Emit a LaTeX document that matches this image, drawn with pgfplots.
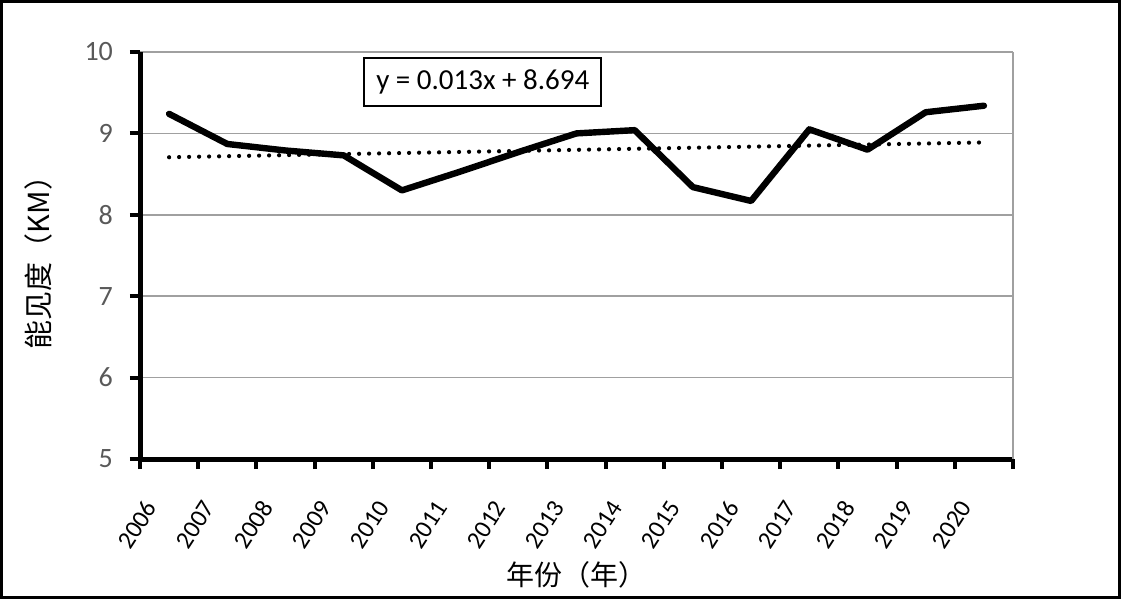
\documentclass[border=0pt]{standalone}
\usepackage{fontspec}
\setmainfont{Carlito}
\newfontfamily\cjk{Noto Sans CJK SC}
\usepackage{pgfplots}
\pgfplotsset{compat=1.18}
\definecolor{tickgray}{HTML}{595959}
\definecolor{gridgray}{HTML}{A0A0A0}

\begin{document}
\begin{tikzpicture}
\begin{axis}[
    name=ax,
    scale only axis,
    width=436.5pt, height=203.5pt,
    xmin=0.5, xmax=15.5,
    ymin=5, ymax=10,
    axis lines*=left,
    axis line style={line width=2.5pt, -},
    xtick={1,...,15},
    xticklabels={2006,2007,2008,2009,2010,2011,2012,2013,2014,2015,2016,2017,2018,2019,2020},
    major x tick style={draw=none},
    minor xtick={0.5,1.5,...,15.5},
    minor tick length=5pt,
    xticklabel style={xshift=-9pt, yshift=-17pt, rotate=57, anchor=east, inner sep=0pt, font=\fontsize{12.5}{14}\selectfont},
    ytick={5,6,...,10},
    yticklabel style={font=\fontsize{14}{16}\selectfont, text=tickgray, xshift=-5pt},
    major tick length=5pt,
    tick align=outside,
    tick style={line width=2pt, black},
    ymajorgrids=true,
    grid style={gridgray, line width=0.8pt},
    /pgf/number format/assume math mode=true,
    clip=false,
]
\addplot[black, line width=3.2pt, line join=round, line cap=round] coordinates {
    (1,9.24) (2,8.87) (3,8.79) (4,8.73) (5,8.30) (6,8.53) (7,8.77)
    (8,9.00) (9,9.04) (10,8.34) (11,8.17) (12,9.05) (13,8.80) (14,9.26) (15,9.34)
};
\addplot[black, line width=2.1pt, line cap=round, dash pattern=on 0pt off 5pt] coordinates {
    (1,8.707) (15,8.889)
};
\draw[gridgray, line width=0.8pt] (rel axis cs:1,0) -- (rel axis cs:1,1);
\node[draw=black, line width=1pt, fill=white, inner xsep=6pt, inner ysep=6pt, font=\fontsize{14.5}{16}\selectfont]
    at (axis cs:6.39,9.63) {y = 0.013x + 8.694};
\end{axis}
\node[rotate=90, font=\cjk\fontsize{14.5}{16}\selectfont] at ([xshift=-51pt]ax.west) {能见度（KM）};
\node[font=\cjk\fontsize{14}{16}\selectfont] at ([yshift=-58pt]ax.south) {年份（年）};
\draw[line width=1.5pt] ([xshift=-69.25pt,yshift=-69.25pt]ax.south west) rectangle ([xshift=53.25pt,yshift=25.25pt]ax.north east);
\end{tikzpicture}
\end{document}
